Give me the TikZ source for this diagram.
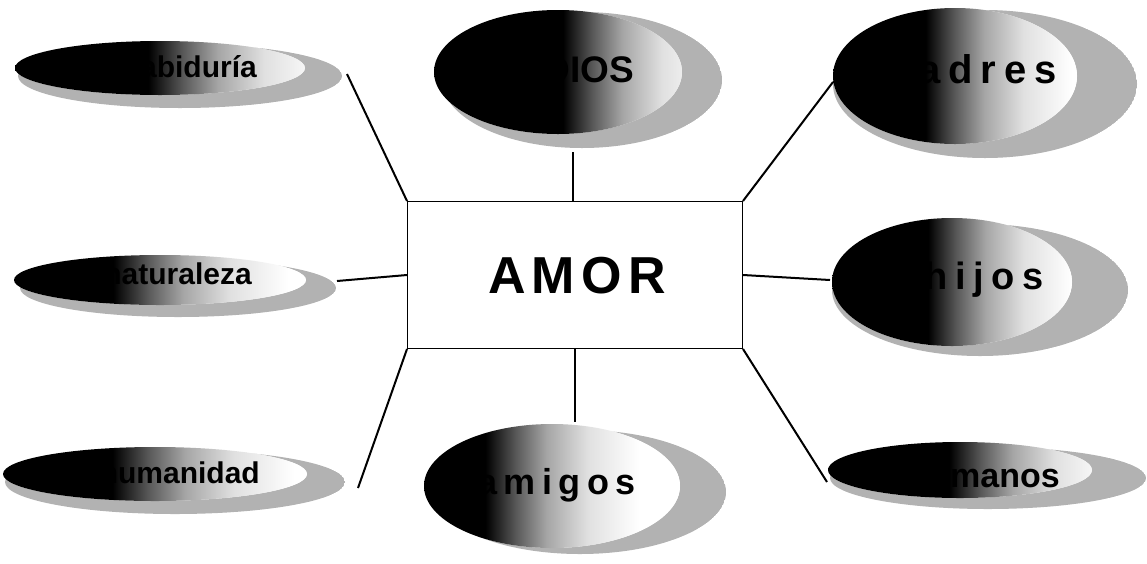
\documentclass[tikz,border=0pt]{standalone}
\usepackage{fontspec}
\setmainfont{Liberation Sans}
\newfontfamily\padfont[LetterSpace=20]{Liberation Sans}
\newfontfamily\hijfont[LetterSpace=20]{Liberation Sans}
\newfontfamily\amifont[LetterSpace=18]{Liberation Sans}
\newfontfamily\amorfont[LetterSpace=12]{Liberation Sans}
\usetikzlibrary{shapes.geometric,calc}
\newcommand\mkshade[1]{%
  \pgfmathtruncatemacro\shpa{#1+6}%
  \pgfmathtruncatemacro\shpb{#1+12}%
  \pgfmathtruncatemacro\shpc{#1+20}%
  \pgfmathtruncatemacro\shpd{#1+30}%
  \edef\shtmp{\noexpand\pgfdeclarehorizontalshading{sh#1}{100bp}{color(0bp)=(black); color(#1bp)=(black); color(\shpa bp)=(black!65); color(\shpb bp)=(black!35); color(\shpc bp)=(black!12); color(\shpd bp)=(white); color(100bp)=(white)}}%
  \shtmp}
\mkshade{37}\mkshade{42}\mkshade{43}\mkshade{44}\mkshade{45}\mkshade{48}\mkshade{51}
\tikzset{
  blobbody/.style={ellipse, inner sep=0pt},
  swoosh/.style={fill=black!30},
  lbl/.style={inner sep=0pt, font=\bfseries},
  conn/.style={line width=2pt, black},
  centerbox/.style={draw=black, line width=1pt, fill=white, minimum width=335pt, minimum height=147pt, inner sep=0pt}
}
% #1 name, #2 shading, #3,#4 body centre, #5,#6 body radii, #7,#8 swoosh offset, #9 swoosh x growth
\newcommand\amorblob[9]{%
  \begin{scope}
    \clip ($(#3,#4)+(#7,#8)$) ellipse[x radius=#5pt+#9pt, y radius=#6pt+\swy pt];
    \fill[swoosh, even odd rule] ($(#3,#4)+(#7,#8)$) ellipse[x radius=#5pt+#9pt, y radius=#6pt+\swy pt] (#3,#4) ellipse[x radius=#5pt, y radius=#6pt];
  \end{scope}
  \node[blobbody, shading=#2, minimum width=2*#5pt, minimum height=2*#6pt] (#1) at (#3,#4) {};
}
\begin{document}
\begin{tikzpicture}[x=1pt, y=-1pt]
\useasboundingbox (0,0) rectangle (1147,563);
\fill[white] (0,0) rectangle (1147,563);

% blobs
\def\swy{5}\amorblob{sab}{sh48}{160}{68}{145}{27}{20}{8}{17}
\def\swy{4}\amorblob{nat}{sh42}{160}{280}{146}{25}{18}{8}{12}
\def\swy{5}\amorblob{hum}{sh43}{155}{474}{152}{27}{20}{8}{18}
\def\swy{6}\amorblob{dios}{sh51}{558}{72}{124}{62}{24}{8}{16}
\def\swy{6}\amorblob{pad}{sh44}{955}{76}{122}{68}{30}{8}{30}
\def\swy{2}\amorblob{hij}{sh45}{952}{282}{120}{64}{28}{8}{28}
\def\swy{0}\amorblob{ami}{sh37}{552}{486}{128}{62}{28}{6}{18}
\def\swy{3}\amorblob{her}{sh48}{960}{470}{132}{28}{28}{8}{26}

% labels
\node[lbl, anchor=base east, font=\bfseries\fontsize{30}{32}\selectfont] (sabt) at (257,77) {sabiduría};
\node[lbl, anchor=base east, font=\bfseries\fontsize{30}{32}\selectfont] (natt) at (252,284) {naturaleza};
\node[lbl, anchor=base east, font=\bfseries\fontsize{30}{32}\selectfont] (humt) at (260,483) {humanidad};
\node[lbl, anchor=base east, font=\bfseries\fontsize{37}{40}\selectfont] (diost) at (634,82) {DIOS};
\node[lbl, anchor=base east, font=\bfseries\padfont\fontsize{40}{42}\selectfont] (padt) at (1057,83) {padres};
\node[lbl, anchor=base east, font=\bfseries\hijfont\fontsize{38}{40}\selectfont] (hijt) at (1044,289) {hijos};
\node[lbl, anchor=base east, font=\bfseries\amifont\fontsize{36}{38}\selectfont] (amit) at (636,494) {amigos};
\node[lbl, anchor=base east, font=\bfseries\fontsize{34}{37}\selectfont] (hert) at (1060,487) {hermanos};

% centre
\node[centerbox] (amor) at (575,275) {};
\node[lbl, font=\bfseries\amorfont\fontsize{52}{56}\selectfont] (amort) at (577,276) {AMOR};

% connector ends
\coordinate (e1) at (347,74);
\coordinate (e2) at (573,152);
\coordinate (e3) at (833,82);
\coordinate (e4) at (337,281);
\coordinate (e5) at (830,280);
\coordinate (e6) at (358,488);
\coordinate (e7) at (575,422);
\coordinate (e8) at (827,482);

\draw[conn] (amor.north west) -- (e1);
\draw[conn] ([xshift=-2pt]amor.north) -- (e2);
\draw[conn] (amor.north east) -- (e3);
\draw[conn] (amor.west) -- (e4);
\draw[conn] (amor.east) -- (e5);
\draw[conn] (amor.south west) -- (e6);
\draw[conn] (amor.south) -- (e7);
\draw[conn] (amor.south east) -- (e8);
\end{tikzpicture}
\end{document}
